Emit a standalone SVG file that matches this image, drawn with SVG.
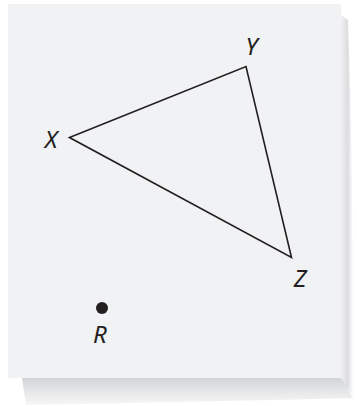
<svg xmlns="http://www.w3.org/2000/svg" width="357" height="406" viewBox="0 0 357 406">
  <defs>
    <linearGradient id="shB" x1="0" y1="0" x2="0" y2="1">
      <stop offset="0" stop-color="#d3d4d6"/>
      <stop offset="0.5" stop-color="#e6e7e8"/>
      <stop offset="1" stop-color="#f7f7f8"/>
    </linearGradient>
    <linearGradient id="shR" x1="0" y1="0" x2="1" y2="0">
      <stop offset="0" stop-color="#f0f0f1"/>
      <stop offset="0.55" stop-color="#dcdddf"/>
      <stop offset="1" stop-color="#ffffff"/>
    </linearGradient>
    <style>
      .lbl { font-family: "Noto Sans", "Open Sans", sans-serif; font-style: italic; font-size: 24px; fill: #231f20; text-anchor: middle; }
      .edge { stroke: #231f20; stroke-width: 1.6; fill: none; stroke-linejoin: miter; }
    </style>
  </defs>
  <rect x="0" y="0" width="357" height="406" fill="#ffffff"/>
  <g id="shadow">
    <path d="M341,15 L348,20 Q354,200 353,395 L341,380 Z" fill="url(#shR)"/>
    <path d="M22,378 L341,378 Q348,388 353,398 Q200,402 26,405 Z" fill="url(#shB)"/>
  </g>
  <rect id="page" x="8" y="4" width="333" height="374" fill="#f1f2f4"/>
  <g id="connectors">
    <polygon class="edge" points="69.5,137.5 246,66.5 291.5,257.5"/>
  </g>
  <g id="node-X"><text class="lbl" x="51" y="147.5">X</text></g>
  <g id="node-Y"><text class="lbl" x="251.5" y="55">Y</text></g>
  <g id="node-Z"><text class="lbl" x="300" y="287">Z</text></g>
  <g id="node-R">
    <circle cx="102" cy="308" r="6" fill="#231f20"/>
    <text class="lbl" x="100" y="343">R</text>
  </g>
</svg>
